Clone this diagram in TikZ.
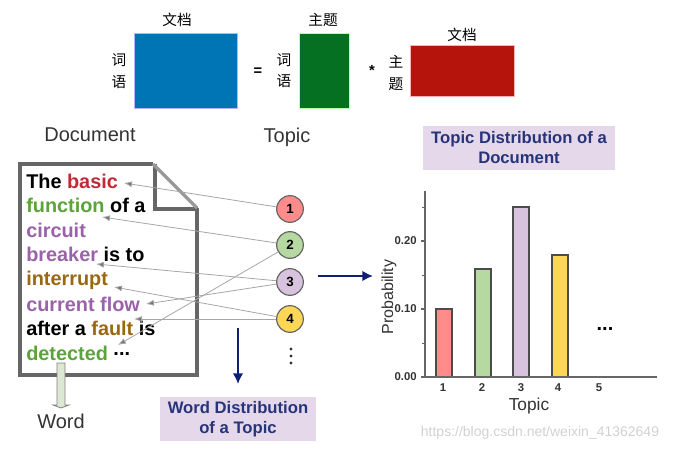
\documentclass[tikz,border=0pt]{standalone}
\usepackage{fontspec}
\usepackage{xcolor}
\setmainfont{Liberation Sans}
\newfontfamily\cjk{Noto Sans CJK SC}
\usetikzlibrary{arrows.meta}
\definecolor{navyline}{HTML}{0F1F78}
\definecolor{navytext}{HTML}{27347A}
\definecolor{boxlilac}{HTML}{E4D8EA}
\definecolor{wordred}{HTML}{C22A35}
\definecolor{wordgreen}{HTML}{5BA33B}
\definecolor{wordpurple}{HTML}{9A62A8}
\definecolor{wordbrown}{HTML}{9A6812}
\definecolor{barred}{HTML}{FF8B8B}
\definecolor{bargreen}{HTML}{B5D9A0}
\definecolor{barpurple}{HTML}{D8C3DE}
\definecolor{baryellow}{HTML}{FFD757}
\tikzset{
  cjklabel/.style={font=\cjk\fontsize{11}{13}\selectfont,inner sep=0pt},
  bigtext/.style={font=\fontsize{15}{17}\selectfont,text=black!80,inner sep=0pt},
  docline/.style={anchor=base west,font=\bfseries\fontsize{14.9}{17}\selectfont,inner sep=0pt},
  topiccircle/.style={circle,draw=black!60,line width=0.9pt,minimum size=20pt,inner sep=0pt,font=\bfseries\fontsize{10}{12}\selectfont},
  linkarrow/.style={draw=black!35,line width=0.6pt,-{Latex[length=6pt,width=4.5pt,fill=black!55]}},
  navyarrow/.style={draw=navyline,line width=1.5pt,-{Latex[length=8pt,width=8pt]}},
  titlebox/.style={fill=boxlilac,align=center,text=navytext,inner sep=0pt,font=\bfseries\fontsize{12.5}{15}\selectfont},
  probbar/.style={draw=black!70,line width=1pt},
  ticklabel/.style={font=\bfseries\fontsize{8.5}{10}\selectfont,text=black!80,inner sep=0pt},
}
\begin{document}
\begin{tikzpicture}[x=0.75pt,y=-0.75pt]
\useasboundingbox (0,0) rectangle (685,452);
% top matrices
\fill[draw=blue!30,fill={rgb,255:red,0;green,117;blue,181}] (134,33) rectangle (237,108);
\fill[draw=green!30,fill={rgb,255:red,5;green,112;blue,33}] (299,33) rectangle (349,108);
\fill[draw=red!30,fill={rgb,255:red,181;green,20;blue,13}] (410,45) rectangle (514,96);
\node[cjklabel] (docA) at (177,20){文档};
\node[cjklabel] (topicA) at (323,20){主题};
\node[cjklabel] (docB) at (462,35){文档};
\node[cjklabel] (wordA) at (119,60){词};
\node[cjklabel] (wordB) at (119,82){语};
\node[cjklabel] (wordC) at (284,60){词};
\node[cjklabel] (wordD) at (284,81){语};
\node[cjklabel] (topicB) at (396,62){主};
\node[cjklabel] (topicC) at (396,84){题};
\node[inner sep=0pt,font=\bfseries\fontsize{11}{12}\selectfont] (equal) at (258,72){=};
\node[inner sep=0pt,font=\bfseries\fontsize{11}{12}\selectfont] (times) at (372,70){*};
\node[bigtext] (document) at (90,135){Document};
\node[bigtext] (topic) at (287,137){Topic};
% document page
\draw[black!60,line width=2.6pt,line join=miter] (153,164)--(20,164)--(20,375)--(197,375)--(197,208);
\draw[black!60,line width=2.6pt] (155,164)--(155,209)--(198,209);
\draw[black!40,line width=2.6pt] (153,164)--(197,208);
% word arrow
\draw[fill={rgb,255:red,222;green,231;blue,210},draw=black!50,line width=0.6pt]
  (57,363)--(65,363)--(65,405)--(69,405)--(61,408)--(53,405)--(57,405)--cycle;
\node[docline] (lineA) at (26,189){The \textcolor{wordred}{basic}};
\node[docline] (lineB) at (26,213){\textcolor{wordgreen}{function} of a};
\node[docline] (lineC) at (26,238){\textcolor{wordpurple}{circuit}};
\node[docline] (lineD) at (26,262){\textcolor{wordpurple}{breaker} is to};
\node[docline] (lineE) at (26,286){\textcolor{wordbrown}{interrupt}};
\node[docline] (lineF) at (26,311){\textcolor{wordpurple}{current flow}};
\node[docline] (lineG) at (26,335){after a \textcolor{wordbrown}{fault} is};
\node[docline] (lineH) at (26,360){\textcolor{wordgreen}{detected} \raisebox{0.25em}{...}};
\node[bigtext] (word) at (61,421){Word};
% topics
\node[topiccircle,fill=barred] (one) at (290,209){1};
\node[topiccircle,fill=bargreen] (two) at (290,245){2};
\node[topiccircle,fill=barpurple] (three) at (290,282){3};
\node[topiccircle,fill=baryellow] (four) at (290,319){4};
\coordinate (basic) at (124,183);
\coordinate (function) at (102,217);
\coordinate (breaker) at (96,264);
\coordinate (flow) at (146,304);
\coordinate (detected) at (118,345);
\coordinate (interrupt) at (114,287);
\coordinate (fault) at (134,319);
\draw[linkarrow] (one)--(basic);
\draw[linkarrow] (two)--(function);
\draw[linkarrow] (two)--(detected);
\draw[linkarrow] (three)--(breaker);
\draw[linkarrow] (three)--(flow);
\draw[linkarrow] (four)--(interrupt);
\draw[linkarrow] (four)--(fault);
\fill[black!80] (291,349) circle (1.7) (291,356) circle (1.7) (291,363) circle (1.7);
% blue arrows
\coordinate (downA) at (238,328);
\coordinate (downB) at (238,384);
\coordinate (rightA) at (318,276);
\coordinate (rightB) at (373,276);
\draw[navyarrow] (downA)--(downB);
\draw[navyarrow] (rightA)--(rightB);
\node[titlebox,minimum width=117pt,minimum height=33pt] (wordbox) at (238,419){Word Distribution\\of a Topic};
\node[titlebox,minimum width=144pt,minimum height=33pt] (topicbox) at (519,148){Topic Distribution of a\\Document};
% bar chart
\draw[probbar,fill=barred] (436,377) rectangle (452,309);
\draw[probbar,fill=bargreen] (475,377) rectangle (491,269);
\draw[probbar,fill=barpurple] (513,377) rectangle (529,207);
\draw[probbar,fill=baryellow] (552,377) rectangle (568,255);
\draw[black!60,line width=0.9pt] (425,191)--(425,377)--(657,377);
\draw[black!60,line width=0.8pt] (421,241)--(425,241) (421,309)--(425,309) (421,377)--(425,377);
\draw[black!60,line width=0.6pt] (422,207)--(425,207) (422,275)--(425,275) (422,343)--(425,343);
\node[ticklabel,anchor=east] (tickC) at (417,241){0.20};
\node[ticklabel,anchor=east] (tickB) at (417,309){0.10};
\node[ticklabel,anchor=east] (tickA) at (417,377){0.00};
\node[ticklabel] (labA) at (443,388){1};
\node[ticklabel] (labB) at (482,388){2};
\node[ticklabel] (labC) at (521,388){3};
\node[ticklabel] (labD) at (558,388){4};
\node[ticklabel] (labE) at (599,388){5};
\node[inner sep=0pt,anchor=base,font=\bfseries\fontsize{15}{16}\selectfont] (more) at (605,330){...};
\node[inner sep=0pt,font=\fontsize{13}{15}\selectfont,text=black!80] (xtitle) at (529,406){Topic};
\node[inner sep=0pt,rotate=90,font=\fontsize{12}{14}\selectfont,text=black!80] (ytitle) at (389,297){Probability};
\node[inner sep=0pt,font=\fontsize{10.5}{12}\selectfont,text=black!18] (mark) at (540,433){https://blog.csdn.net/weixin\_41362649};
\end{tikzpicture}
\end{document}
